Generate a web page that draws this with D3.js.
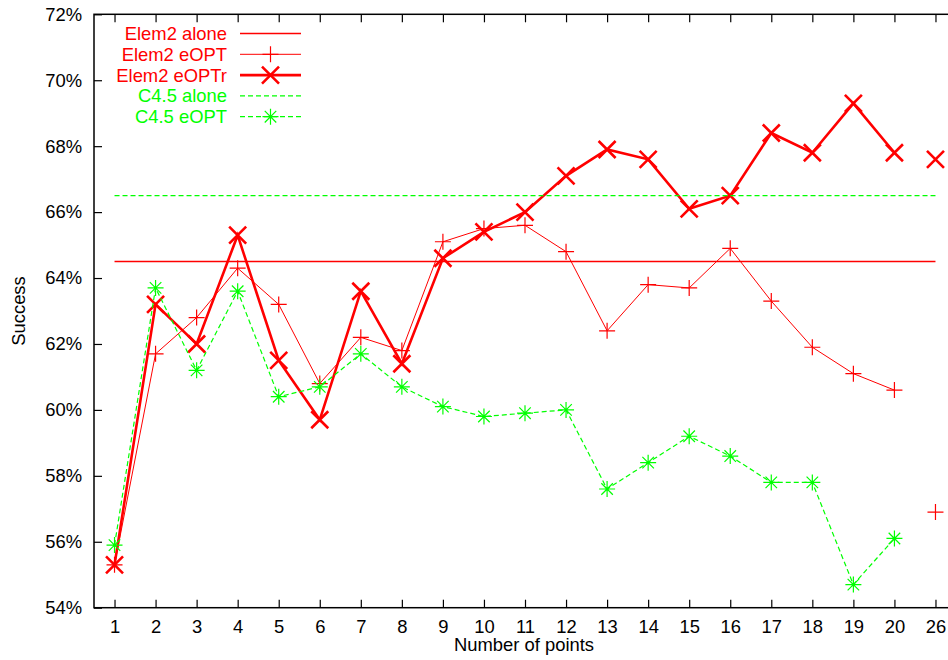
<!DOCTYPE html>
<meta charset="UTF-8">
<html>
<head>
<script src="https://d3js.org/d3.v7.min.js"></script>
<style>
body { margin: 0; background: #fff; }
.Chart text { font-family: "Liberation Sans", Arial, sans-serif; font-size: 18.4px; }
</style>
</head>
<body>
<svg class="Chart"></svg>
<script>
// categories on the x axis (26 sits after a gap in the data)
var Points = ["1","2","3","4","5","6","7","8","9","10","11","12","13","14","15","16","17","18","19","20","26"];
var GapBefore = "26";

// percentages
var Elem2Alone = 64.5;
var C45Alone = 66.5;
var Elem2EOPT  = [55.3,61.7,62.8,64.3,63.2,60.8,62.2,61.8,65.1,65.5,65.6,64.8,62.4,63.8,63.7,64.9,63.3,61.9,61.1,60.6,56.9];
var Elem2EOPTr = [55.3,63.2,62.0,65.3,61.5,59.7,63.6,61.4,64.6,65.4,66.0,67.1,67.9,67.6,66.1,66.5,68.4,67.8,69.3,67.8,67.6];
var C45EOPT    = [55.9,63.7,61.2,63.6,60.4,60.7,61.7,60.7,60.1,59.8,59.9,60.0,57.6,58.4,59.2,58.6,57.8,57.8,54.7,56.1,null];
var YTicks = [54,56,58,60,62,64,66,68,70,72];

var Width = 948, Height = 660;
var Margin = {Left: 94, Top: 14.3, Right: 956, Bottom: 607.7};

var svg = d3.select(".Chart").attr("width", Width).attr("height", Height);

var XScale = d3.scalePoint().domain(Points).range([Margin.Left, Margin.Right]).padding(0.5);
var YScale = d3.scaleLinear().domain([54, 72]).range([Margin.Bottom, Margin.Top]);

var Red = "#ff0000", Green = "#00ff00";

// axes with inward ticks, mirrored on top
svg.append("g").attr("transform", "translate(0," + Margin.Bottom + ")")
	.call(d3.axisBottom(XScale).tickSize(-8).tickSizeOuter(0).tickPadding(12));
svg.append("g").attr("transform", "translate(0," + Margin.Top + ")")
	.call(d3.axisTop(XScale).tickSize(-8).tickSizeOuter(0).tickFormat(""));
svg.append("g").attr("transform", "translate(" + Margin.Left + ",0)")
	.call(d3.axisLeft(YScale).tickValues(YTicks).tickSize(-8).tickSizeOuter(0).tickPadding(12)
		.tickFormat(function(d){ return d + "%"; }));
svg.selectAll(".domain").remove();
svg.selectAll(".tick line").attr("stroke", "#000").attr("stroke-width", 1.2);
svg.selectAll(".tick text").attr("fill", "#000").style("font-size", "18.4px");

svg.append("rect")
	.attr("x", Margin.Left).attr("y", Margin.Top)
	.attr("width", Margin.Right - Margin.Left).attr("height", Margin.Bottom - Margin.Top)
	.attr("fill", "none").attr("stroke", "#000").attr("stroke-width", 1.5);

svg.append("text").attr("x", (Margin.Left + Margin.Right) / 2 - 1).attr("y", 651)
	.attr("text-anchor", "middle").text("Number of points");
svg.append("text").attr("transform", "translate(25," + ((Margin.Top + Margin.Bottom) / 2) + ") rotate(-90)")
	.attr("text-anchor", "middle").text("Success");

// markers
function plusPath(x, y, r) { return "M" + (x - r) + "," + y + "H" + (x + r) + "M" + x + "," + (y - r) + "V" + (y + r); }
function crossPath(x, y, r) { return "M" + (x - r) + "," + (y - r) + "L" + (x + r) + "," + (y + r) + "M" + (x - r) + "," + (y + r) + "L" + (x + r) + "," + (y - r); }
function starPath(x, y, r) { return plusPath(x, y, r) + crossPath(x, y, r * 0.72); }

function segments(values) {
	var segs = [], cur = [];
	Points.forEach(function(p, i) {
		if (p === GapBefore && cur.length) { segs.push(cur); cur = []; }
		if (values[i] !== null) cur.push({p: p, v: values[i]});
	});
	if (cur.length) segs.push(cur);
	return segs;
}

var line = d3.line().x(function(d){ return XScale(d.p); }).y(function(d){ return YScale(d.v); });

var Series = [
	{name: "Elem2 alone", color: Red, width: 1.4, dash: null, marker: null, constant: Elem2Alone},
	{name: "Elem2 eOPT", color: Red, width: 1, dash: null, marker: plusPath, size: 8, mwidth: 1.2, values: Elem2EOPT},
	{name: "Elem2 eOPTr", color: Red, width: 2.6, dash: null, marker: crossPath, size: 8.5, mwidth: 2.6, values: Elem2EOPTr},
	{name: "C4.5 alone", color: Green, width: 1.3, dash: "5,3", marker: null, constant: C45Alone},
	{name: "C4.5 eOPT", color: Green, width: 1.2, dash: "5,3", marker: starPath, size: 8, mwidth: 1.2, values: C45EOPT}
];

Series.forEach(function(s, k) {
	var g = svg.append("g");
	var segs;
	if (s.constant !== undefined) {
		segs = [[{p: Points[0], v: s.constant}, {p: Points[Points.length - 1], v: s.constant}]];
	} else {
		segs = segments(s.values);
	}
	g.selectAll("path.line").data(segs).enter().append("path")
		.attr("d", line).attr("fill", "none").attr("stroke", s.color)
		.attr("stroke-width", s.width).attr("stroke-dasharray", s.dash);
	if (s.marker) {
		var pts = s.values.map(function(v, i){ return {p: Points[i], v: v}; }).filter(function(d){ return d.v !== null; });
		g.selectAll("path.mark").data(pts).enter().append("path")
			.attr("d", function(d){ return s.marker(XScale(d.p), YScale(d.v), s.size); })
			.attr("fill", "none").attr("stroke", s.color).attr("stroke-width", s.mwidth);
	}
	// legend entry
	var ly = 33.5 + k * 20.8;
	svg.append("text").attr("x", 227).attr("y", ly).attr("dy", "0.35em")
		.attr("text-anchor", "end").attr("fill", s.color).text(s.name);
	svg.append("path").attr("d", "M240," + ly + "H301").attr("stroke", s.color)
		.attr("stroke-width", s.width).attr("stroke-dasharray", s.dash).attr("fill", "none");
	if (s.marker) {
		svg.append("path").attr("d", s.marker(270.5, ly, s.size)).attr("fill", "none")
			.attr("stroke", s.color).attr("stroke-width", s.mwidth);
	}
});
</script>
</body>
</html>
